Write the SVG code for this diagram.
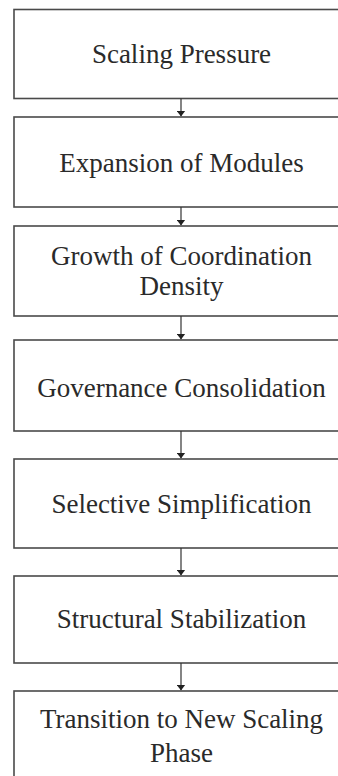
<svg xmlns="http://www.w3.org/2000/svg" width="338" height="776" viewBox="0 0 338 776">
  <style>
    .box { fill: #ffffff; stroke: #4a4a4a; stroke-width: 1.6; }
    .label { font-family: "Liberation Serif", "Times New Roman", serif; font-size: 27px; fill: #2a2a2a; text-anchor: middle; }
    .link { stroke: #333333; stroke-width: 1.2; fill: none; marker-end: url(#head); }
  </style>
  <defs>
    <marker id="head" markerWidth="6" markerHeight="9" refX="5.5" refY="4.5" orient="auto" markerUnits="userSpaceOnUse" viewBox="0 0 6 9">
      <path d="M0,0 L6,4.5 L0,9 Z" fill="#222222" transform="rotate(0)"/>
    </marker>
  </defs>
  <rect width="338" height="776" fill="#ffffff"/>

  <g id="scaling-pressure">
    <rect class="box" x="14" y="9.5" width="340" height="89"/>
    <text class="label" x="181.5" y="63">Scaling Pressure</text>
  </g>
  <g id="expansion-of-modules">
    <rect class="box" x="14" y="117" width="340" height="90"/>
    <text class="label" x="181.5" y="172">Expansion of Modules</text>
  </g>
  <g id="coordination-density">
    <rect class="box" x="14" y="226" width="340" height="90"/>
    <text class="label" x="181.5" y="265">Growth of Coordination</text>
    <text class="label" x="181.5" y="295">Density</text>
  </g>
  <g id="governance-consolidation">
    <rect class="box" x="14" y="340" width="340" height="91"/>
    <text class="label" x="181.5" y="397">Governance Consolidation</text>
  </g>
  <g id="selective-simplification">
    <rect class="box" x="14" y="459" width="340" height="89"/>
    <text class="label" x="181.5" y="513">Selective Simplification</text>
  </g>
  <g id="structural-stabilization">
    <rect class="box" x="14" y="576" width="340" height="87"/>
    <text class="label" x="181.5" y="628">Structural Stabilization</text>
  </g>
  <g id="new-scaling-phase">
    <rect class="box" x="14" y="691" width="340" height="92"/>
    <text class="label" x="181.5" y="728">Transition to New Scaling</text>
    <text class="label" x="181.5" y="762">Phase</text>
  </g>

  <g id="connectors">
    <line class="link" x1="181" y1="98.5" x2="181" y2="116"/>
    <line class="link" x1="181" y1="207" x2="181" y2="225"/>
    <line class="link" x1="181" y1="316" x2="181" y2="339"/>
    <line class="link" x1="181" y1="431" x2="181" y2="458"/>
    <line class="link" x1="181" y1="548" x2="181" y2="575"/>
    <line class="link" x1="181" y1="663" x2="181" y2="690"/>
  </g>
</svg>
